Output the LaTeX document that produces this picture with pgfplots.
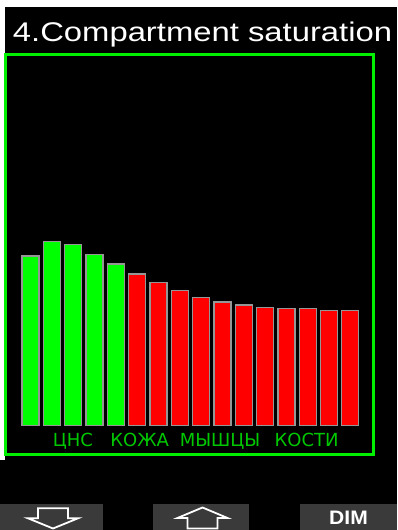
\documentclass[border=0pt]{standalone}
\usepackage{pgfplots}
\pgfplotsset{compat=1.18}
\usepackage{graphicx}
\usepackage{fontspec}
\setmainfont{Liberation Sans}
\newfontfamily\labfont{DejaVu Sans}
\definecolor{bargreen}{RGB}{0,255,0}
\definecolor{barred}{RGB}{255,0,0}
\definecolor{bargray}{RGB}{150,150,150}
\definecolor{framegreen}{RGB}{0,240,0}
\definecolor{labgreen}{RGB}{0,200,0}
\definecolor{btn}{RGB}{58,58,58}
\begin{document}
\begin{tikzpicture}[x=1pt,y=1pt]
\fill[black] (0,0) rectangle (397,530);
\useasboundingbox (0,0) rectangle (397,530);
\fill[white] (0,523) rectangle (397,530);
\fill[white] (0,70) rectangle (5,530);
\node[anchor=base west, inner sep=0, text=white] at (12.7,488.5) {\fontsize{27}{27}\selectfont\scalebox{1.215}[1]{4.Compartment saturation}};
\fill[btn] (0,0) rectangle (103.3,26);
\fill[btn] (152.5,0) rectangle (249,26);
\fill[btn] (300,0) rectangle (397,26);
\draw[white, line width=1.8pt, line join=miter] (38,21.7) -- (68,21.7) -- (68,11.7) -- (78,11.7) -- (53,1.5) -- (28,11.7) -- (38,11.7) -- cycle;
\draw[white, line width=1.8pt, line join=miter] (202.5,22.5) -- (227.5,12) -- (217.5,12) -- (217.5,1.5) -- (187.5,1.5) -- (187.5,12) -- (177.5,12) -- cycle;
\node[anchor=base, text=white, inner sep=0] at (348.5,5.2) {\fontsize{19.5}{19.5}\selectfont\bfseries\scalebox{1.08}[1]{DIM}};
\begin{axis}[at={(6pt,75.5pt)}, anchor=south west, scale only axis,
  width=367pt, height=400pt,
  xmin=-0.149, xmax=17.064, ymin=-28.8, ymax=371.2,
  axis line style={draw=framegreen, line width=3pt},
  xtick=\empty, ytick=\empty,
  ybar, bar width=17pt, bar shift=0pt, clip=false]
\addplot[fill=bargreen, draw=bargray, line width=1.3pt] coordinates {(1,169.7) (2,184.4) (3,181.4) (4,171.4) (5,161.7)};
\addplot[fill=barred, draw=bargray, line width=1.3pt] coordinates {(6,151.7) (7,143.4) (8,135.0) (9,128.4) (10,123.7) (11,120.7) (12,118.4) (13,117.0) (14,117.0) (15,115.4) (16,115.4)};
\node[anchor=base, text=labgreen, inner sep=0, font=\labfont\fontsize{18}{18}\selectfont] at (axis cs:2.99,-20.3) {ЦНС};
\node[anchor=base, text=labgreen, inner sep=0, font=\labfont\fontsize{18}{18}\selectfont] at (axis cs:6.12,-20.3) {КОЖА};
\node[anchor=base, text=labgreen, inner sep=0, font=\labfont\fontsize{18}{18}\selectfont] at (axis cs:9.89,-20.3) {МЫШЦЫ};
\node[anchor=base, text=labgreen, inner sep=0, font=\labfont\fontsize{18}{18}\selectfont] at (axis cs:13.95,-20.3) {КОСТИ};
\end{axis}
\end{tikzpicture}
\end{document}
